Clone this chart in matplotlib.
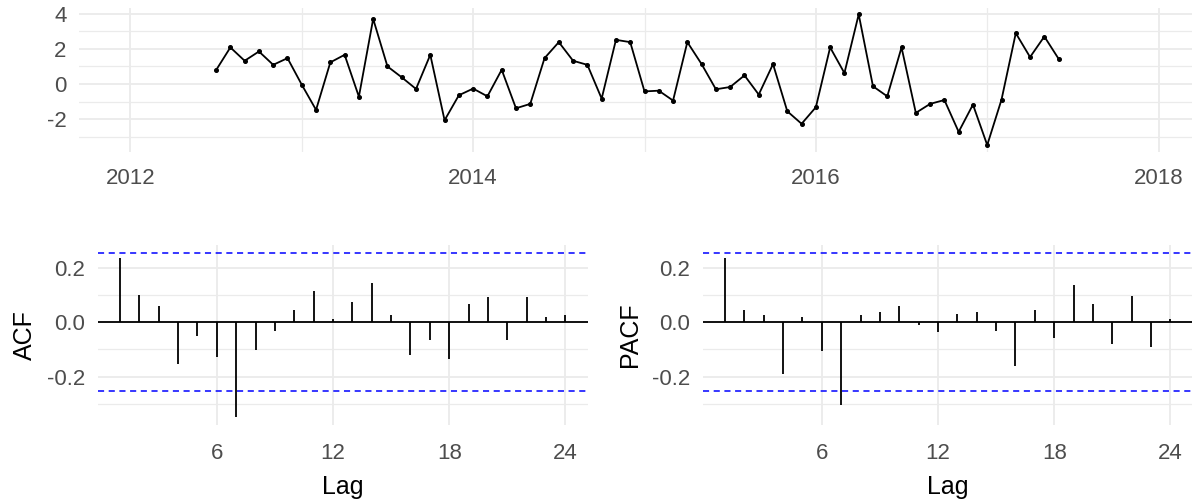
import numpy as np
import matplotlib
matplotlib.use("Agg")
import matplotlib.pyplot as plt

plt.rcParams['font.family'] = ['Liberation Sans', 'DejaVu Sans']
plt.rcParams['axes.unicode_minus'] = False

# monthly series, Jul 2012 .. Jun 2017
start_year = 2012
start_month = 7
series = [0.79, 2.08, 1.32, 1.85, 1.09, 1.47,
          -0.04, -1.47, 1.23, 1.66, -0.72, 3.70, 1.00, 0.38, -0.28, 1.66, -2.06, -0.64,
          -0.26, -0.70, 0.81, -1.38, -1.13, 1.47, 2.38, 1.32, 1.09, -0.83, 2.51, 2.38,
          -0.42, -0.38, -0.94, 2.38, 1.13, -0.30, -0.17, 0.49, -0.60, 1.13, -1.55, -2.26,
          -1.32, 2.08, 0.62, 3.96, -0.13, -0.70, 2.08, -1.64, -1.13, -0.91, -2.72, -1.17,
          -3.47, -0.89, 2.89, 1.53, 2.70, 1.43]

lags = list(range(1, 25))
acf_vals = [0.237, 0.099, 0.058, -0.154, -0.052, -0.127, -0.348, -0.101, -0.031, 0.046,
            0.115, 0.011, 0.074, 0.142, 0.025, -0.121, -0.065, -0.136, 0.065, 0.093,
            -0.065, 0.093, 0.019, 0.025]
pacf_vals = [0.237, 0.044, 0.025, -0.189, 0.017, -0.107, -0.306, 0.025, 0.038, 0.059,
             -0.011, -0.038, 0.031, 0.038, -0.032, -0.163, 0.046, -0.059, 0.135, 0.065,
             -0.080, 0.094, -0.093, 0.011]

year_ticks = [2012, 2014, 2016, 2018]
year_minor = [2013, 2015, 2017]
lag_ticks = [6, 12, 18, 24]

W, H = 1192, 501
fig = plt.figure(figsize=(W / 100, H / 100), dpi=100)
fig.patch.set_facecolor('white')

grid_col = '#EBEBEB'
tick_col = '#4D4D4D'
tick_fs = 16
title_fs = 18


def style(ax):
    for s in ax.spines.values():
        s.set_visible(False)
    ax.tick_params(which='both', length=0, labelsize=tick_fs, labelcolor=tick_col)
    ax.grid(True, which='major', color=grid_col, lw=1.3, zorder=0)
    ax.grid(True, which='minor', color=grid_col, lw=0.9, zorder=0)
    ax.set_axisbelow(True)


# ---- top: time series ----
ax0 = fig.add_axes([79 / W, 1 - 151.6 / H, (1210 - 79) / W, (151.6 - 7.8) / H])
t = start_year + (start_month - 1 + np.arange(len(series))) / 12
ax0.plot(t, series, color='black', lw=1.3, marker='o', ms=2.6, zorder=3)
ax0.set_xlim(2011.7, 2018.3)
lo, hi = min(series), max(series)
pad = (hi - lo) * 0.05
ax0.set_ylim(lo - pad, hi + pad)
ax0.set_xticks(year_ticks)
ax0.set_xticks(year_minor, minor=True)
ax0.set_yticks([-2, 0, 2, 4])
ax0.set_yticks([-3, -1, 1, 3], minor=True)
style(ax0)
ax0.tick_params(axis='x', pad=12)
ax0.tick_params(axis='y', pad=9)

# ---- bottom: ACF / PACF ----
ci = 1.96 / np.sqrt(len(series))
ymin = min(min(acf_vals), min(pacf_vals), -ci)
ymax = max(max(acf_vals), max(pacf_vals), ci)
ypad = (ymax - ymin) * 0.05
xpad = (max(lags) - min(lags)) * 0.05

panels = [(97.7, acf_vals, 'ACF'), (702.7, pacf_vals, 'PACF')]
for left, vals, name in panels:
    ax = fig.add_axes([left / W, 1 - 425 / H, 490 / W, 180 / H])
    ax.vlines(lags, 0, vals, color='black', lw=1.3, zorder=3)
    ax.axhline(0, color='black', lw=1.3, zorder=3)
    for c in (ci, -ci):
        ax.axhline(c, color='blue', lw=1.1, ls=(0, (4, 3)), zorder=2)
    ax.set_xlim(min(lags) - xpad, max(lags) + xpad)
    ax.set_ylim(ymin - ypad, ymax + ypad)
    ax.set_xticks(lag_ticks)
    ax.set_yticks([-0.2, 0.0, 0.2])
    ax.set_yticks([-0.3, -0.1, 0.1], minor=True)
    ax.set_yticklabels(['-0.2', '0.0', '0.2'])
    style(ax)
    ax.grid(False, axis='x', which='minor')
    ax.tick_params(axis='x', pad=13)
    ax.tick_params(axis='y', pad=9)
    ax.set_xlabel('Lag', fontsize=title_fs, color='black', labelpad=8)
    ax.set_ylabel(name, fontsize=title_fs, color='black', labelpad=7)

fig.savefig('out.png', dpi=100, facecolor='white')
